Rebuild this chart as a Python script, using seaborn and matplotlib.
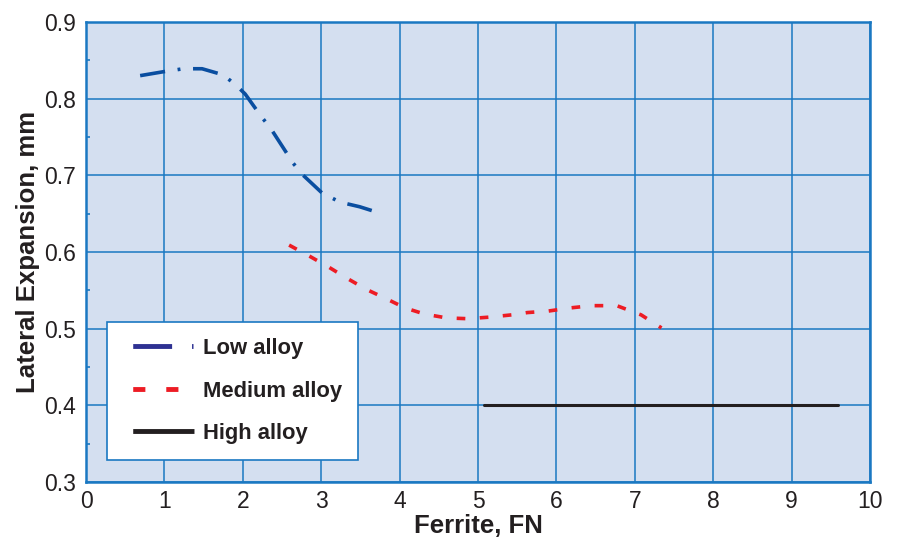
import matplotlib
matplotlib.use("Agg")
import matplotlib.pyplot as plt
import seaborn as sns
import pandas as pd
from matplotlib.ticker import MultipleLocator

low_x = [0.69, 0.98, 1.24, 1.48, 1.75, 1.92, 2.03, 2.24, 2.35, 2.54, 2.64, 2.77, 3.01, 3.24, 3.49, 3.77]
low_y = [0.830, 0.835, 0.839, 0.839, 0.831, 0.817, 0.806, 0.776, 0.762, 0.732, 0.716, 0.700, 0.677, 0.665, 0.659, 0.650]

med_x = [2.59, 2.86, 3.10, 3.34, 3.58, 3.83, 4.07, 4.32, 4.60, 4.87, 5.14, 5.43, 5.63, 5.90, 6.17, 6.45, 6.77, 7.08, 7.34]
med_y = [0.609, 0.594, 0.580, 0.565, 0.551, 0.539, 0.527, 0.519, 0.514, 0.513, 0.515, 0.518, 0.521, 0.523, 0.527, 0.530, 0.530, 0.518, 0.501]

high_x = [5.08, 9.59]
high_y = [0.400, 0.400]

labels = ["Low alloy", "Medium alloy", "High alloy"]
colors = ["#0a4ea0", "#ed1c24", "#231f20"]
legend_colors = ["#2e3192", "#ed1c24", "#231f20"]

sns.set_theme(style="white")
plt.rcParams['font.family'] = ['Liberation Sans', 'DejaVu Sans']

fig = plt.figure(figsize=(9, 5.4), dpi=100)
ax = fig.add_axes([0.0956, 0.1074, 0.8711, 0.8519])
ax.set_facecolor("#d4dff0")

grid_c = "#1a78c2"
styles = [(0, (7, 3.5, 0.8, 3.5)), (0, (2.4, 4.0)), "-"]
lws = [2.6, 2.6, 2.2]
for xs, ys, lab, col, ls, lw in zip([low_x, med_x, high_x], [low_y, med_y, high_y], labels, colors, styles, lws):
    df = pd.DataFrame({"x": xs, "y": ys})
    sns.lineplot(data=df, x="x", y="y", ax=ax, color=col, linestyle=ls, linewidth=lw, label=lab, zorder=3)

ax.set_xlim(0, 10)
ax.set_ylim(0.3, 0.9)
ax.xaxis.set_major_locator(MultipleLocator(1))
ax.yaxis.set_major_locator(MultipleLocator(0.1))
ax.yaxis.set_minor_locator(MultipleLocator(0.05))
ax.grid(True, which="major", color=grid_c, linewidth=1.1, zorder=1)
ax.set_axisbelow(True)
for s in ax.spines.values():
    s.set_color(grid_c)
    s.set_linewidth(1.8)
ax.tick_params(axis="both", which="both", direction="in", color=grid_c, labelsize=16.5, labelcolor="#231f20")
ax.tick_params(axis="both", which="major", length=4, width=1.2)
ax.tick_params(axis="x", which="major", pad=6)
ax.tick_params(axis="y", which="major", pad=7)
ax.tick_params(axis="y", which="minor", length=3, width=1.2, left=True)
ax.set_yticklabels([f"{v:.1f}" for v in ax.get_yticks()])

ax.set_xlabel("Ferrite, FN", fontsize=18.5, fontweight="bold", color="#231f20", labelpad=0.5)
ax.set_ylabel("Lateral Expansion, mm", fontsize=18.5, fontweight="bold", color="#231f20", labelpad=3)

leg = ax.legend(loc="lower left", bbox_to_anchor=(0.027, 0.048), frameon=True, fancybox=False,
                prop={"weight": "bold", "size": 15.8}, handlelength=3.35, handletextpad=0.28,
                borderpad=0.72, labelspacing=0.98, borderaxespad=0)
leg.get_frame().set_edgecolor(grid_c)
leg.get_frame().set_linewidth(1.2)
leg.get_frame().set_facecolor("white")
leg.get_frame().set_alpha(1)
leg_styles = [(20.4, (8.0, 4.1, 0.3, 10)), (17.3, (2.5, 4.3, 2.5, 10)), (20.6, (12.6, 10))]
for h, c, ls in zip(leg.get_lines(), legend_colors, leg_styles):
    h.set_color(c)
    h.set_linewidth(3.5)
    h.set_linestyle(ls)
    h.set_dash_capstyle("butt")
for t in leg.get_texts():
    t.set_color("#231f20")

fig.savefig("out.png", dpi=100)
